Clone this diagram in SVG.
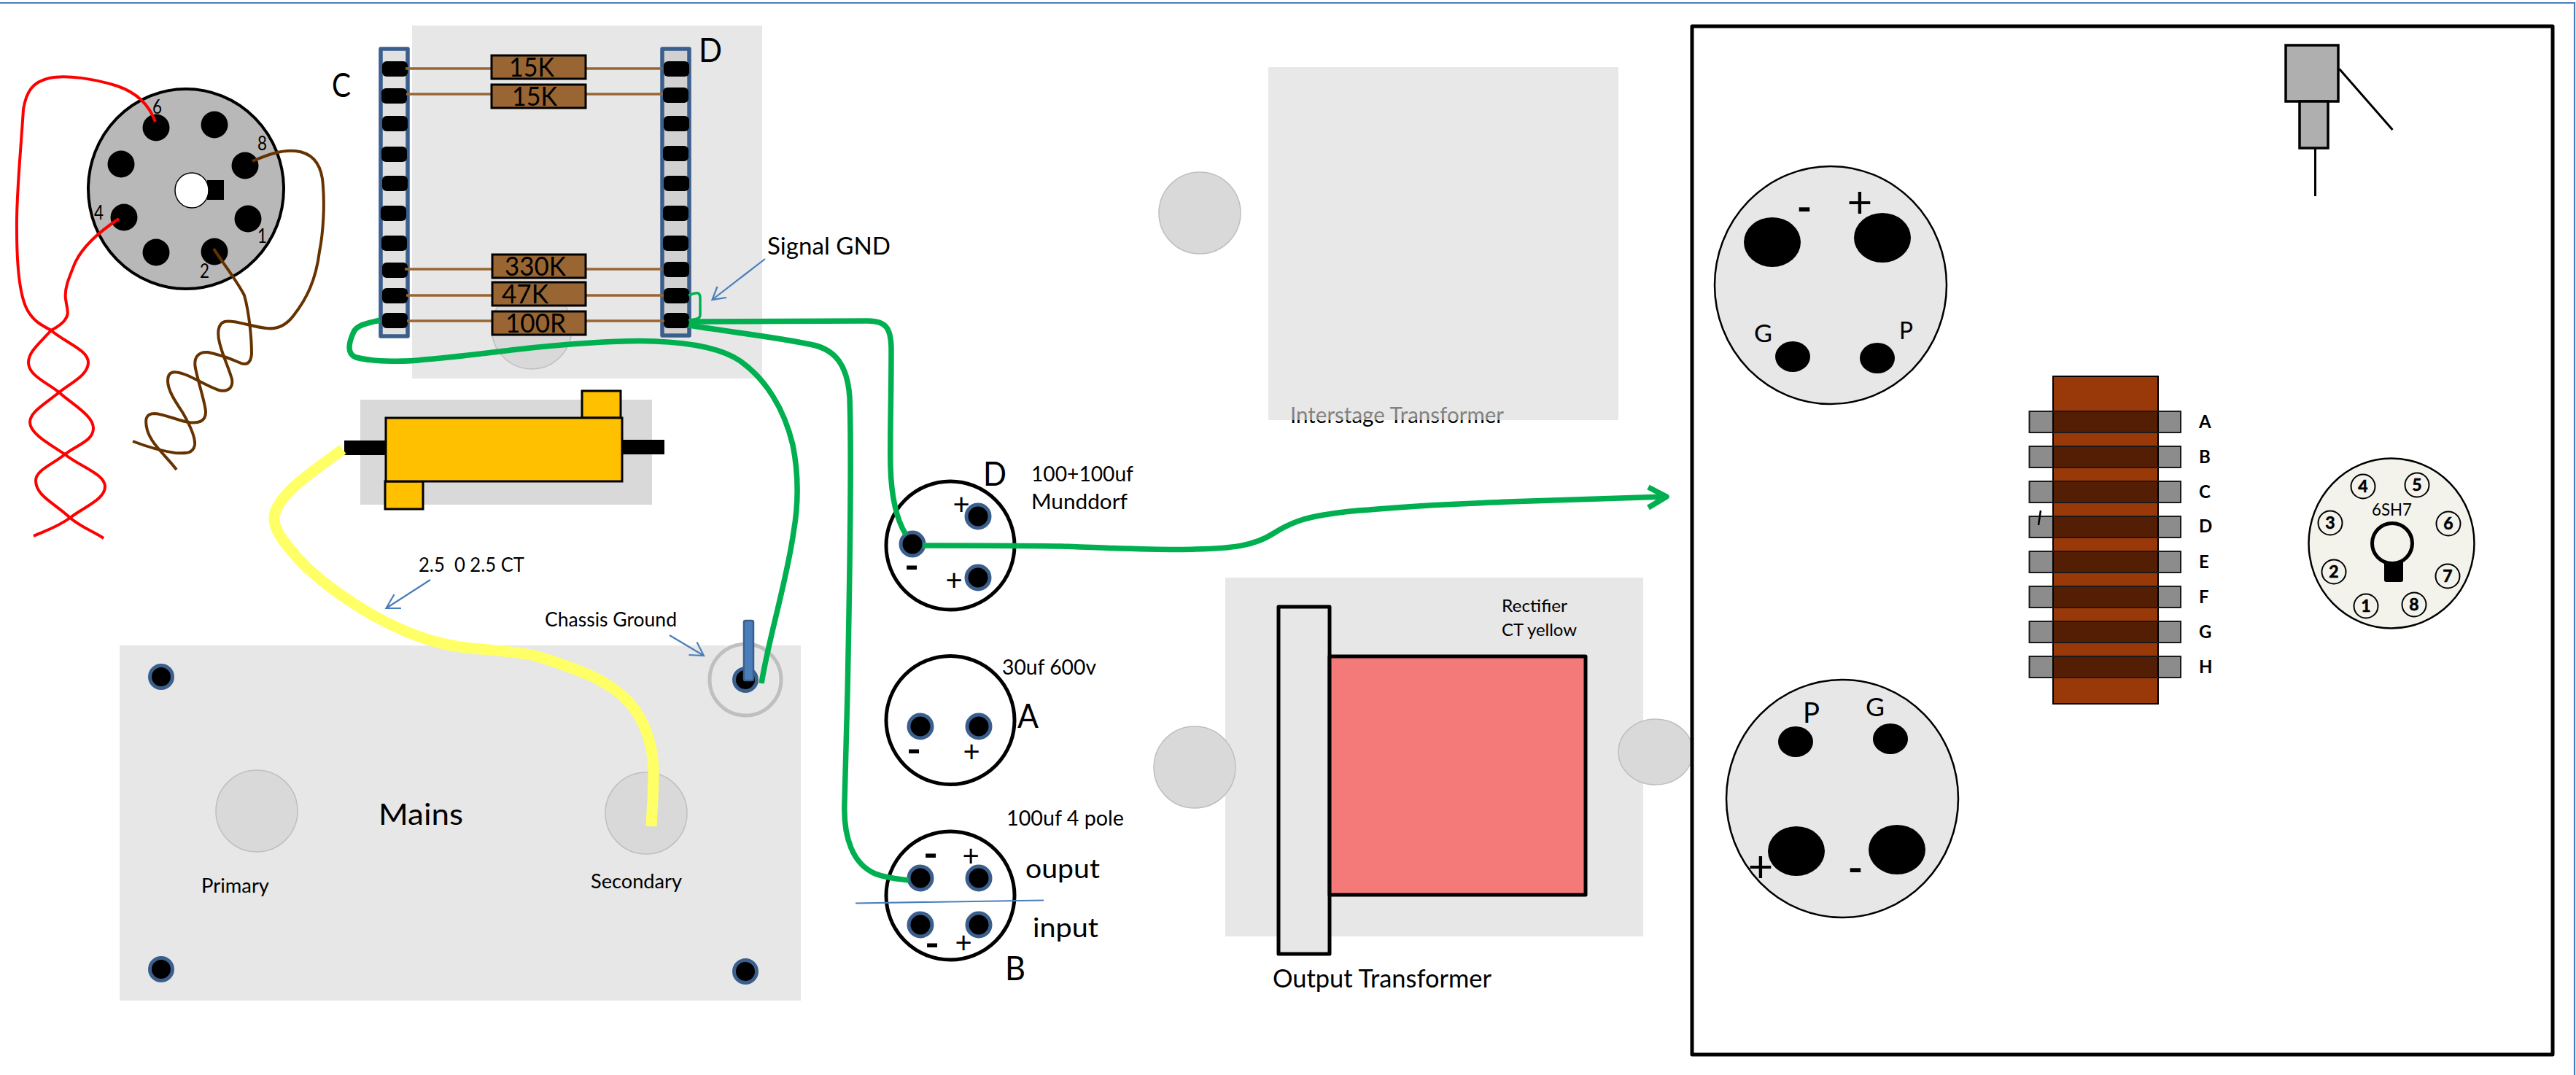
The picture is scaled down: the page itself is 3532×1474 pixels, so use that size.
<svg xmlns="http://www.w3.org/2000/svg" width="3532" height="1474" viewBox="0 0 3532 1474">
<defs>
<style>
text{font-family:Lato,"Liberation Sans",sans-serif;fill:#000}
.panel{fill:#e7e7e7}
.boss{fill:#d9d9d9;stroke:#bfbfbf;stroke-width:1.5}
.hole{fill:#000}
.pad{fill:#000}
.strip{fill:#a3a3a3;fill-opacity:.33;stroke:#3b5f8d;stroke-width:5.5;stroke-linejoin:round}
.res{fill:#996633;stroke:#000;stroke-width:3}
.lead{stroke:#996633;stroke-width:3.5;fill:none}
.pin{fill:#000;stroke:#3b5f8d;stroke-width:5}
.cap{fill:#fff;stroke:#000;stroke-width:5}
.tube{fill:#e7e7e7;stroke:#000;stroke-width:2.5}
.box{stroke:#000;stroke-width:3}
.red{stroke:#f00;stroke-width:4;fill:none}
.brown{stroke:#663300;stroke-width:4;fill:none}
.green{stroke:#00b050;stroke-width:7.5;fill:none;stroke-linejoin:round}
.yellow{stroke:#ffff66;stroke-width:15;fill:none}
.thin{stroke:#4a7ebb;stroke-width:2.2;fill:none}
.bar{fill:#000;fill-opacity:.45;stroke:#1a1a1a;stroke-width:2}
.ring{fill:none;stroke:#000;stroke-width:2}
.lbl{font-size:26px}
.cap-lbl{font-size:29px}
.big{font-size:46px}
.s{font-size:40px;text-anchor:middle}
.m{font-size:54px;font-weight:700;text-anchor:middle}
.n{font-size:23px;font-weight:700;text-anchor:middle;stroke:#000;stroke-width:.6}
.tag{font-size:24px;font-weight:700}
</style>
</defs>
<rect width="3532" height="1474" fill="#fff"/>
<path d="M0,4H3530V1474" fill="none" stroke="#4a7ebb" stroke-width="2.2"/>

<g id="resistor-board">
<rect class="panel" x="565" y="35" width="480" height="484"/>
<ellipse class="boss" cx="729" cy="450" rx="55" ry="56"/>
<rect class="strip" x="522" y="67" width="37" height="394"/>
<rect class="strip" x="908" y="67" width="37" height="393"/>
<rect class="pad" x="524" y="84" width="35" height="21" rx="6"/><rect class="pad" x="523" y="121" width="35" height="21" rx="6"/><rect class="pad" x="524" y="159" width="35" height="21" rx="6"/><rect class="pad" x="523" y="201" width="35" height="21" rx="6"/><rect class="pad" x="524" y="241" width="35" height="21" rx="6"/><rect class="pad" x="522" y="282" width="35" height="21" rx="6"/><rect class="pad" x="523" y="323" width="35" height="21" rx="6"/><rect class="pad" x="524" y="360" width="35" height="21" rx="6"/><rect class="pad" x="524" y="395" width="35" height="21" rx="6"/><rect class="pad" x="524" y="429" width="35" height="21" rx="6"/>
<rect class="pad" x="910" y="84" width="35" height="21" rx="6"/><rect class="pad" x="909" y="120" width="35" height="21" rx="6"/><rect class="pad" x="910" y="159" width="35" height="21" rx="6"/><rect class="pad" x="909" y="200" width="35" height="21" rx="6"/><rect class="pad" x="910" y="241" width="35" height="21" rx="6"/><rect class="pad" x="909" y="282" width="35" height="21" rx="6"/><rect class="pad" x="909" y="323" width="35" height="21" rx="6"/><rect class="pad" x="910" y="359" width="35" height="21" rx="6"/><rect class="pad" x="910" y="395" width="35" height="21" rx="6"/><rect class="pad" x="910" y="429" width="35" height="21" rx="6"/>
<path class="lead" d="M556,94H674M803,94H908M557,129H674M803,129H909M555,369H675M803,369H908M557,405H675M803,405H910M558,440H675M803,440H911"/>
<rect class="res" x="674" y="76" width="129" height="32"/><rect class="res" x="674" y="116" width="129" height="32"/><rect class="res" x="675" y="349" width="128" height="32"/><rect class="res" x="675" y="387" width="128" height="32"/><rect class="res" x="675" y="427" width="128" height="32"/>
<text x="698" y="105" font-size="37" textLength="62" lengthAdjust="spacingAndGlyphs">15K</text>
<text x="702" y="145" font-size="37" textLength="62" lengthAdjust="spacingAndGlyphs">15K</text>
<text x="692" y="378" font-size="37" textLength="84" lengthAdjust="spacingAndGlyphs">330K</text>
<text x="688" y="416" font-size="37" textLength="64" lengthAdjust="spacingAndGlyphs">47K</text>
<text x="693" y="456" font-size="37" textLength="83" lengthAdjust="spacingAndGlyphs">100R</text>
<text class="big" x="455" y="133" textLength="26" lengthAdjust="spacingAndGlyphs">C</text>
<text class="big" x="958" y="85" textLength="32" lengthAdjust="spacingAndGlyphs">D</text>
</g>

<g id="octal-socket">
<ellipse cx="255" cy="259" rx="134" ry="137" fill="#b8b8b8" stroke="#000" stroke-width="4"/>
<circle class="hole" cx="214" cy="175" r="18.5"/><circle class="hole" cx="294" cy="171" r="18.5"/><circle class="hole" cx="166" cy="225" r="18.5"/><circle class="hole" cx="336" cy="227" r="18.5"/><circle class="hole" cx="170" cy="298" r="18.5"/><circle class="hole" cx="340" cy="300" r="18.5"/><circle class="hole" cx="214" cy="346" r="18.5"/><circle class="hole" cx="294" cy="345" r="18.5"/>
<rect x="284" y="247" width="23" height="27" fill="#000"/>
<ellipse cx="263" cy="261" rx="23" ry="24" fill="#fff" stroke="#000" stroke-width="1.5"/>
<text class="lbl" x="209" y="156" textLength="13" lengthAdjust="spacingAndGlyphs">6</text><text class="lbl" x="353" y="206" textLength="13" lengthAdjust="spacingAndGlyphs">8</text><text class="lbl" x="353" y="333" textLength="13" lengthAdjust="spacingAndGlyphs">1</text><text class="lbl" x="274" y="381" textLength="13" lengthAdjust="spacingAndGlyphs">2</text><text class="lbl" x="129" y="301" textLength="13" lengthAdjust="spacingAndGlyphs">4</text>
</g>

<g id="wirewound-resistor">
<rect x="494" y="548" width="400" height="144" fill="#d9d9d9"/>
<rect x="472" y="604" width="58" height="20" fill="#000"/>
<rect x="852" y="603" width="59" height="20" fill="#000"/>
<rect class="box" x="798" y="536" width="53" height="37" fill="#ffc000"/>
<rect class="box" x="528" y="660" width="52" height="38" fill="#ffc000"/>
<rect class="box" x="529" y="573" width="324" height="87" fill="#ffc000"/>
</g>

<g id="mains-transformer">
<rect class="panel" x="164" y="885" width="934" height="487"/>
<circle class="boss" cx="352" cy="1112" r="56"/>
<circle class="boss" cx="886" cy="1115" r="56"/>
<ellipse cx="1022" cy="932" rx="49" ry="49" fill="none" stroke="#bfbfbf" stroke-width="5"/>
<circle class="pin" cx="221" cy="928" r="15.5"/><circle class="pin" cx="221" cy="1329" r="15.5"/><circle class="pin" cx="1022" cy="1332" r="15.5"/><circle class="pin" cx="1022" cy="932" r="15.5"/>
<rect x="1020" y="851" width="13" height="82" rx="2" fill="#4a7ebb" stroke="#3b5f8d" stroke-width="2.5"/>
<text x="519" y="1131" font-size="41" textLength="116" lengthAdjust="spacingAndGlyphs">Mains</text>
<text class="lbl" x="276" y="1224" textLength="93" lengthAdjust="spacingAndGlyphs">Primary</text>
<text class="lbl" x="810" y="1218" textLength="125" lengthAdjust="spacingAndGlyphs">Secondary</text>
</g>

<g id="cap-d">
<circle class="cap" cx="1303" cy="748" r="88"/>
<circle class="pin" cx="1251" cy="746" r="16"/><circle class="pin" cx="1341" cy="708" r="16"/><circle class="pin" cx="1341" cy="792" r="16"/>
<text class="s" x="1318" y="706">+</text><text class="m" x="1250" y="794">-</text><text class="s" x="1308" y="810">+</text>
<text class="big" x="1348" y="666" textLength="32" lengthAdjust="spacingAndGlyphs">D</text>
<text class="cap-lbl" x="1414" y="660" textLength="140" lengthAdjust="spacingAndGlyphs">100+100uf</text>
<text class="cap-lbl" x="1414" y="698" textLength="132" lengthAdjust="spacingAndGlyphs">Munddorf</text>
</g>
<g id="cap-a">
<circle class="cap" cx="1303" cy="987.5" r="88"/>
<circle class="pin" cx="1262" cy="996" r="16"/><circle class="pin" cx="1342" cy="996" r="16"/>
<text class="m" x="1253" y="1046">-</text><text class="s" x="1332" y="1045">+</text>
<text class="big" x="1395" y="998" textLength="29" lengthAdjust="spacingAndGlyphs">A</text>
<text class="cap-lbl" x="1374" y="925" textLength="129" lengthAdjust="spacingAndGlyphs">30uf 600v</text>
</g>
<g id="cap-b">
<circle class="cap" cx="1303" cy="1228" r="88"/>
<circle class="pin" cx="1262" cy="1204" r="16"/><circle class="pin" cx="1342" cy="1204" r="16"/><circle class="pin" cx="1262" cy="1268" r="16"/><circle class="pin" cx="1342" cy="1268" r="16"/>
<text class="m" x="1276" y="1189">-</text><text class="s" x="1331" y="1188">+</text><text class="m" x="1278" y="1312">-</text><text class="s" x="1321" y="1307">+</text>
<text class="big" x="1378" y="1344" textLength="28" lengthAdjust="spacingAndGlyphs">B</text>
<text class="cap-lbl" x="1380" y="1132" textLength="161" lengthAdjust="spacingAndGlyphs">100uf 4 pole</text>
<text x="1406" y="1204" font-size="37" textLength="102" lengthAdjust="spacingAndGlyphs">ouput</text>
<text x="1416" y="1285" font-size="37" textLength="90" lengthAdjust="spacingAndGlyphs">input</text>
</g>

<g id="interstage-transformer">
<circle class="boss" cx="1645" cy="292" r="56"/>
<text x="1769" y="580" font-size="31" textLength="293" lengthAdjust="spacingAndGlyphs">Interstage Transformer</text>
<rect x="1739" y="92" width="480" height="484" fill="#d9d9d9" fill-opacity=".6"/>
</g>

<g id="output-transformer">
<rect class="panel" x="1680" y="792" width="573" height="492"/>
<circle class="boss" cx="1638" cy="1052" r="56"/>
<ellipse class="boss" cx="2270" cy="1031" rx="51" ry="45"/>
<rect x="1753" y="832" width="70" height="476" fill="#e7e7e7" stroke="#000" stroke-width="5" stroke-linejoin="round"/>
<rect x="1823" y="900" width="351" height="327" fill="#f47a7a" stroke="#000" stroke-width="5" stroke-linejoin="round"/>
<text x="2059" y="839" font-size="24" textLength="90" lengthAdjust="spacingAndGlyphs">Rectifier</text>
<text x="2059" y="872" font-size="24" textLength="103" lengthAdjust="spacingAndGlyphs">CT yellow</text>
<text x="1745" y="1354" font-size="34" textLength="300" lengthAdjust="spacingAndGlyphs">Output Transformer</text>
</g>

<g id="amp-frame">
<rect x="2320" y="36" width="1180" height="1410" fill="none" stroke="#000" stroke-width="5" stroke-linejoin="round"/>
</g>

<g id="tube-socket-top">
<ellipse class="tube" cx="2510" cy="391" rx="159" ry="163"/>
<ellipse class="hole" cx="2430" cy="332" rx="39" ry="34"/><ellipse class="hole" cx="2581" cy="326" rx="39" ry="34"/>
<ellipse class="hole" cx="2458" cy="489" rx="24" ry="21"/><ellipse class="hole" cx="2574" cy="491" rx="24" ry="21"/>
<text x="2474" y="304" font-size="56" font-weight="700" text-anchor="middle">-</text>
<text x="2550" y="298" font-size="60" text-anchor="middle">+</text>
<text x="2405" y="469" font-size="32" textLength="25" lengthAdjust="spacingAndGlyphs">G</text>
<text x="2604" y="465" font-size="32" textLength="19" lengthAdjust="spacingAndGlyphs">P</text>
</g>
<g id="tube-socket-bottom">
<ellipse class="tube" cx="2526" cy="1095" rx="159" ry="163"/>
<ellipse class="hole" cx="2463" cy="1167" rx="39" ry="34"/><ellipse class="hole" cx="2601" cy="1165" rx="39" ry="34"/>
<ellipse class="hole" cx="2462" cy="1017" rx="24" ry="21"/><ellipse class="hole" cx="2592" cy="1013" rx="24" ry="21"/>
<text x="2414" y="1209" font-size="60" text-anchor="middle">+</text>
<text x="2544" y="1210" font-size="56" font-weight="700" text-anchor="middle">-</text>
<text x="2472" y="991" font-size="38" textLength="23" lengthAdjust="spacingAndGlyphs">P</text>
<text x="2558" y="982" font-size="34" textLength="26" lengthAdjust="spacingAndGlyphs">G</text>
</g>

<g id="pot">
<rect x="3134" y="62" width="72" height="77" fill="#afafaf" stroke="#000" stroke-width="3.5"/>
<rect x="3153" y="139" width="39" height="64" fill="#afafaf" stroke="#000" stroke-width="3.5"/>
<path d="M3174.5,203V269M3207.5,94.5L3280.5,178" fill="none" stroke="#000" stroke-width="3"/>
</g>

<g id="terminal-strip">
<rect x="2815" y="516" width="144" height="449" fill="#993808" stroke="#000" stroke-width="2"/>
<rect class="bar" x="2782.5" y="564" width="207.500" height="29"/><rect class="bar" x="2782.5" y="612" width="207.500" height="29"/><rect class="bar" x="2782.5" y="660" width="207.500" height="29"/><rect class="bar" x="2782.5" y="708" width="207.500" height="29" fill-opacity=".56"/><rect class="bar" x="2782.5" y="756" width="207.500" height="29"/><rect class="bar" x="2782.5" y="804" width="207.500" height="29"/><rect class="bar" x="2782.5" y="852" width="207.500" height="29"/><rect class="bar" x="2782.5" y="900" width="207.500" height="29"/>
<path d="M2798,700L2795,720" stroke="#000" stroke-width="2.5" fill="none"/>
<text class="tag" x="3015" y="587">A</text><text class="tag" x="3015" y="635">B</text><text class="tag" x="3015" y="683">C</text><text class="tag" x="3015" y="730">D</text><text class="tag" x="3015" y="779">E</text><text class="tag" x="3015" y="827">F</text><text class="tag" x="3015" y="875">G</text><text class="tag" x="3015" y="923">H</text>
</g>

<g id="tube-base">
<ellipse cx="3279" cy="745" rx="113.500" ry="116.500" fill="#f3f3ec" stroke="#000" stroke-width="2.500"/>
<rect x="3269" y="768" width="26" height="30" rx="3" fill="#000"/>
<circle cx="3280" cy="745" r="27.500" fill="#f3f3ec" stroke="#000" stroke-width="5"/>
<circle class="ring" cx="3240" cy="667" r="16.500"/><circle class="ring" cx="3314" cy="665" r="16.500"/><circle class="ring" cx="3195" cy="717" r="16.500"/><circle class="ring" cx="3357" cy="718" r="16.500"/><circle class="ring" cx="3200" cy="784" r="16.500"/><circle class="ring" cx="3356" cy="790" r="16.500"/><circle class="ring" cx="3244" cy="831" r="16.500"/><circle class="ring" cx="3310" cy="829" r="16.500"/>
<text class="n" x="3240" y="675">4</text><text class="n" x="3314" y="673">5</text><text class="n" x="3195" y="725">3</text><text class="n" x="3357" y="726">6</text><text class="n" x="3200" y="792">2</text><text class="n" x="3356" y="798">7</text><text class="n" x="3244" y="839">1</text><text class="n" x="3310" y="837">8</text>
<text x="3252" y="707" font-size="24" textLength="55" lengthAdjust="spacingAndGlyphs">6SH7</text>
</g>

<g id="annotations">
<text x="1052" y="349" font-size="32" textLength="169" lengthAdjust="spacingAndGlyphs">Signal GND</text>
<text class="lbl" x="574" y="784" textLength="145" lengthAdjust="spacingAndGlyphs" xml:space="preserve">2.5  0 2.5 CT</text>
<text class="lbl" x="747" y="859" textLength="181" lengthAdjust="spacingAndGlyphs">Chassis Ground</text>
</g>

<g id="connectors">
<path class="red" d="M213,167C205,145 190,128 161,118C130,108 90,102 68,107C45,112 36,125 32,150C28,215 22,270 23,315C23,360 26,405 38,426C48,443 60,447 70,453C90,470 121,480 121,497C121,515 95,526 81,538C60,555 41,565 41,579C41,595 70,610 89,623C110,640 144,650 144,667C144,685 115,695 96,710C80,722 62,728 46,735"/>
<path class="red" d="M163,300C140,315 115,335 103,360C95,380 88,395 90,410C92,425 96,430 88,440C82,447 75,450 70,453C55,470 39,482 39,497C39,515 65,525 81,538C100,555 128,570 128,587C128,605 105,610 89,623C70,638 49,645 49,659C49,680 75,690 96,710C110,722 130,730 142,738"/>
<path class="brown" d="M346,221C365,213 385,205 405,207C425,209 438,220 442,245C446,280 443,320 438,345C433,385 420,410 403,432C392,447 380,452 365,450C345,448 320,438 308,441C298,444 298,458 301,470C306,490 314,505 318,520C320,532 312,538 300,535C285,530 270,520 255,514C240,508 230,508 230,522C230,535 240,550 250,565C260,582 268,600 267,610C265,622 255,622 240,621C220,618 200,612 182,605"/>
<path class="brown" d="M293,341C305,360 325,385 335,405C342,430 345,465 345,485C344,498 338,502 328,497C312,490 295,485 285,483C272,482 265,490 268,505C272,525 282,555 282,565C282,578 272,581 258,579C240,575 225,568 212,567C200,567 198,575 202,590C208,610 228,625 242,644"/>
<path class="yellow" d="M470,616C430,646 388,672 377,703C371,722 390,745 408,765C430,790 490,838 557,866C590,880 625,888 660,890C690,893 715,895 733,899C765,908 790,918 807,925C840,940 862,958 875,980C890,1005 896,1030 896,1060C896,1090 894,1110 893,1133"/>
<path class="green" d="M521,439C505,443 490,445 485,455C478,470 475,485 488,490C515,497 560,496 582,493C620,490 660,485 701,480C770,472 850,466 898,468C950,470 990,478 1015,495C1050,520 1075,560 1087,610C1095,650 1095,690 1088,730C1078,800 1055,870 1044,937"/>
<path class="green" d="M944,446C1000,455 1070,463 1115,473C1145,480 1162,500 1165,545C1167,600 1166,750 1162,950L1158,1100C1156,1150 1170,1185 1200,1198C1215,1204 1230,1205 1246,1207"/>
<path class="green" d="M945,441C1020,440 1100,440 1190,440C1215,440 1222,450 1222,480C1222,550 1220,600 1221,640C1222,680 1228,710 1242,733"/>
<path class="green" style="stroke-width:3.5" d="M944,405C950,403 954,401 957,402C960,403 960,406 960,410L960,432C960,437 955,438 944,439"/>
<path class="green" d="M1265,748C1350,748 1400,748 1456,749C1530,752 1600,755 1640,753C1690,752 1720,748 1745,732C1770,716 1790,710 1815,706C1840,702 1860,700 1877,699C1950,692 2000,691 2068,688L2283,681M2260,668L2285,681L2260,696"/>
<path class="thin" d="M1049,355L976.500,411M983.500,393L976.500,411L996,408"/>
<path class="thin" d="M590,795L529.500,834M540.500,815L529.500,834L550,834"/>
<path class="thin" d="M918,871L965,899M955.500,880.500L965,899L944.500,898"/>
<path class="thin" d="M1173,1238.500L1431,1234.500"/>
</g>
</svg>
